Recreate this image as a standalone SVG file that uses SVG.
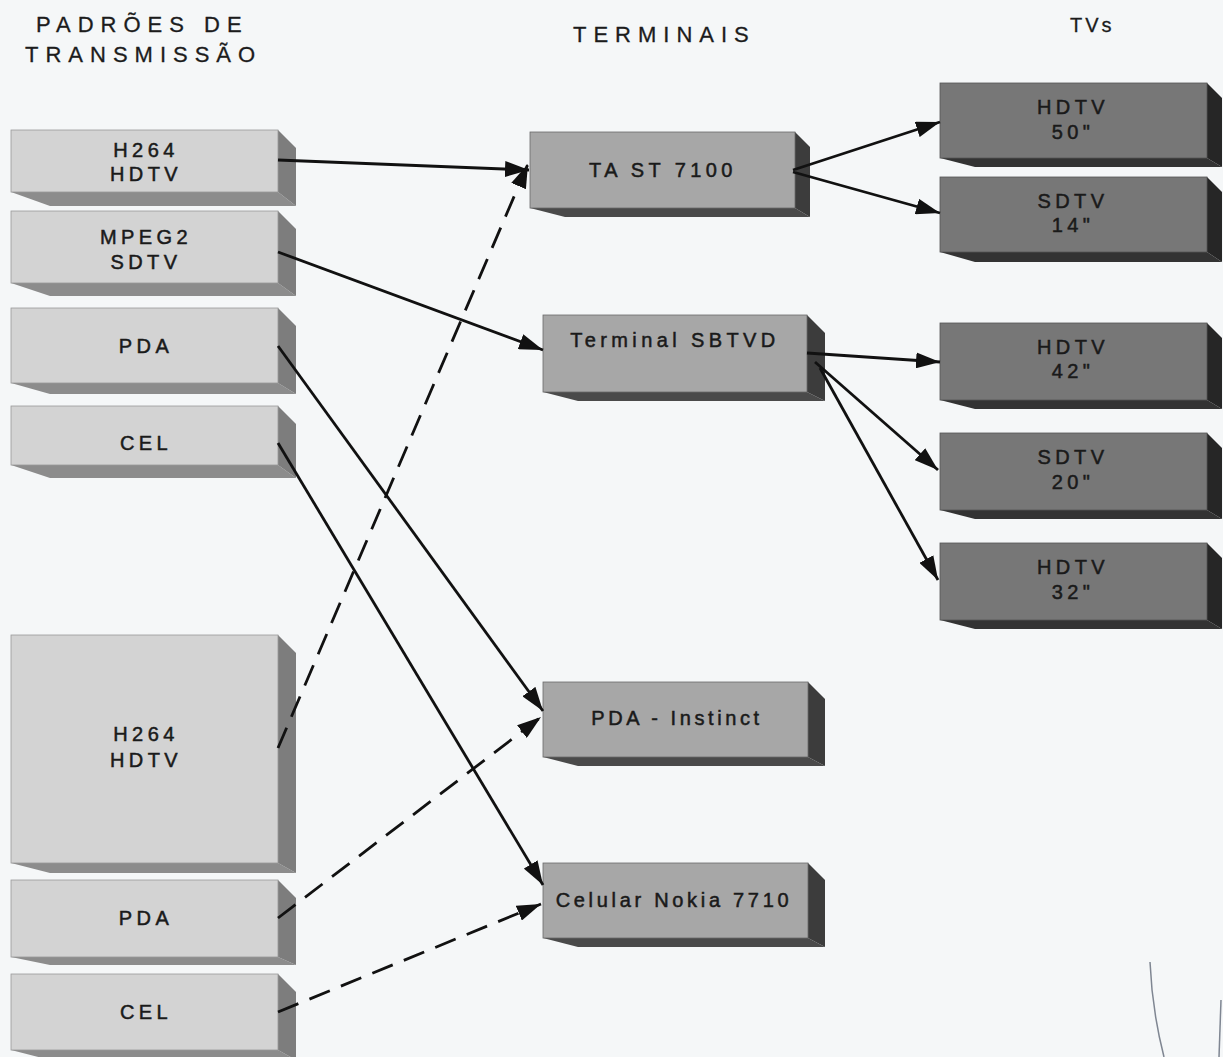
<svg xmlns="http://www.w3.org/2000/svg" width="1223" height="1057" viewBox="0 0 1223 1057">
<defs>
<style>
.hdr{font-family:"Liberation Sans",Arial,sans-serif;font-size:22px;letter-spacing:7px;fill:#1c1c1c;stroke:#1c1c1c;stroke-width:0.3}
.lbl{font-family:"Liberation Sans",Arial,sans-serif;font-size:20px;letter-spacing:4.4px;fill:#1a1a1a;stroke:#1a1a1a;stroke-width:0.5;text-anchor:middle}
.lf{fill:#d3d3d3;stroke:#9a9a9a;stroke-width:0.8}
.ls{fill:#7d7d7d}
.lb{fill:#8c8c8c}
.tf{fill:#a7a7a7;stroke:#6a6a6a;stroke-width:0.8}
.ts{fill:#3c3c3c}
.tb{fill:#4a4a4a}
.vf{fill:#777777;stroke:#555;stroke-width:0.8}
.vs{fill:#262626}
.vb{fill:#333333}
.c{stroke:#111;stroke-width:2.8;fill:none}
.d{stroke:#111;stroke-width:2.8;fill:none;stroke-dasharray:22 12}
</style>
<marker id="ah" markerUnits="userSpaceOnUse" markerWidth="26" markerHeight="16" refX="24" refY="8" orient="auto">
<path d="M0,0 L24,8 L0,16 z" fill="#111"/>
</marker>
</defs>
<rect width="1223" height="1057" fill="#f5f7f8"/>

<g id="headers">
<text class="hdr" x="36" y="32">PADRÕES DE</text>
<text class="hdr" x="25" y="62">TRANSMISSÃO</text>
<text class="hdr" x="573" y="42">TERMINAIS</text>
<text class="hdr" x="1070" y="32" style="font-size:20px;letter-spacing:3px">TVs</text>
</g>

<g id="std-h264-hdtv">
<polygon class="lb" points="11,192 278,192 296,206 50,206"/>
<polygon class="ls" points="278,130 296,148 296,206 278,192"/>
<rect class="lf" x="11" y="130" width="267" height="62"/>
<text class="lbl" x="146" y="157">H264</text>
<text class="lbl" x="146" y="181">HDTV</text>
</g>
<g id="std-mpeg2-sdtv">
<polygon class="lb" points="11,283 278,283 296,296 50,296"/>
<polygon class="ls" points="278,211 296,229 296,296 278,283"/>
<rect class="lf" x="11" y="211" width="267" height="72"/>
<text class="lbl" x="146" y="244">MPEG2</text>
<text class="lbl" x="146" y="269">SDTV</text>
</g>
<g id="std-pda">
<polygon class="lb" points="11,383 278,383 296,394 50,394"/>
<polygon class="ls" points="278,308 296,326 296,394 278,383"/>
<rect class="lf" x="11" y="308" width="267" height="75"/>
<text class="lbl" x="146" y="353">PDA</text>
</g>
<g id="std-cel">
<polygon class="lb" points="11,465 278,465 296,478 50,478"/>
<polygon class="ls" points="278,406 296,424 296,478 278,465"/>
<rect class="lf" x="11" y="406" width="267" height="59"/>
<text class="lbl" x="146" y="450">CEL</text>
</g>
<g id="std-h264-hdtv-2">
<polygon class="lb" points="11,863 278,863 296,873 50,873"/>
<polygon class="ls" points="278,635 296,653 296,873 278,863"/>
<rect class="lf" x="11" y="635" width="267" height="228"/>
<text class="lbl" x="146" y="741">H264</text>
<text class="lbl" x="146" y="767">HDTV</text>
</g>
<g id="std-pda-2">
<polygon class="lb" points="11,957 278,957 296,965 50,965"/>
<polygon class="ls" points="278,880 296,898 296,965 278,957"/>
<rect class="lf" x="11" y="880" width="267" height="77"/>
<text class="lbl" x="146" y="925">PDA</text>
</g>
<g id="std-cel-2">
<polygon class="lb" points="11,1050 278,1050 296,1060 50,1060"/>
<polygon class="ls" points="278,974 296,992 296,1060 278,1050"/>
<rect class="lf" x="11" y="974" width="267" height="76"/>
<text class="lbl" x="146" y="1019">CEL</text>
</g>

<g id="term-ta-st-7100">
<polygon class="tb" points="530,208 795,208 810,217 565,217"/>
<polygon class="ts" points="795,132 810,147 810,217 795,208"/>
<rect class="tf" x="530" y="132" width="265" height="76"/>
<text class="lbl" x="663" y="177">TA ST 7100</text>
</g>
<g id="term-sbtvd">
<polygon class="tb" points="543,392 807,392 825,401 578,401"/>
<polygon class="ts" points="807,315 825,333 825,401 807,392"/>
<rect class="tf" x="543" y="315" width="264" height="77"/>
<text class="lbl" x="675" y="347">Terminal SBTVD</text>
</g>
<g id="term-pda-instinct">
<polygon class="tb" points="543,757 808,757 825,766 578,766"/>
<polygon class="ts" points="808,682 825,699 825,766 808,757"/>
<rect class="tf" x="543" y="682" width="265" height="75"/>
<text class="lbl" x="677" y="725" style="letter-spacing:3.6px">PDA - Instinct</text>
</g>
<g id="term-celular-nokia">
<polygon class="tb" points="543,938 808,938 825,947 578,947"/>
<polygon class="ts" points="808,863 825,880 825,947 808,938"/>
<rect class="tf" x="543" y="863" width="265" height="75"/>
<text class="lbl" x="674" y="907" style="letter-spacing:3.7px">Celular Nokia 7710</text>
</g>

<g id="tv-hdtv-50">
<polygon class="vb" points="940,158 1207,158 1222,167 975,167"/>
<polygon class="vs" points="1207,83 1222,98 1222,167 1207,158"/>
<rect class="vf" x="940" y="83" width="267" height="75"/>
<text class="lbl" x="1073" y="114">HDTV</text>
<text class="lbl" x="1073" y="139">50"</text>
</g>
<g id="tv-sdtv-14">
<polygon class="vb" points="940,252 1207,252 1222,262 975,262"/>
<polygon class="vs" points="1207,177 1222,192 1222,262 1207,252"/>
<rect class="vf" x="940" y="177" width="267" height="75"/>
<text class="lbl" x="1073" y="208">SDTV</text>
<text class="lbl" x="1073" y="232">14"</text>
</g>
<g id="tv-hdtv-42">
<polygon class="vb" points="940,400 1207,400 1222,409 975,409"/>
<polygon class="vs" points="1207,323 1222,338 1222,409 1207,400"/>
<rect class="vf" x="940" y="323" width="267" height="77"/>
<text class="lbl" x="1073" y="354">HDTV</text>
<text class="lbl" x="1073" y="378">42"</text>
</g>
<g id="tv-sdtv-20">
<polygon class="vb" points="940,510 1207,510 1222,519 975,519"/>
<polygon class="vs" points="1207,433 1222,448 1222,519 1207,510"/>
<rect class="vf" x="940" y="433" width="267" height="77"/>
<text class="lbl" x="1073" y="464">SDTV</text>
<text class="lbl" x="1073" y="489">20"</text>
</g>
<g id="tv-hdtv-32">
<polygon class="vb" points="940,620 1207,620 1222,629 975,629"/>
<polygon class="vs" points="1207,543 1222,558 1222,629 1207,620"/>
<rect class="vf" x="940" y="543" width="267" height="77"/>
<text class="lbl" x="1073" y="574">HDTV</text>
<text class="lbl" x="1073" y="599">32"</text>
</g>

<g id="connectors">
<line class="c" x1="278" y1="160" x2="529" y2="170" marker-end="url(#ah)"/>
<line class="c" x1="278" y1="252" x2="543" y2="350" marker-end="url(#ah)"/>
<line class="c" x1="278" y1="346" x2="543" y2="711" marker-end="url(#ah)"/>
<line class="c" x1="278" y1="443" x2="543" y2="885" marker-end="url(#ah)"/>
<line class="d" x1="278" y1="748" x2="528" y2="164" marker-end="url(#ah)"/>
<line class="d" x1="278" y1="918" x2="541" y2="717" marker-end="url(#ah)"/>
<line class="d" x1="278" y1="1012" x2="541" y2="904" marker-end="url(#ah)"/>
<line class="c" x1="793" y1="170" x2="940" y2="122" marker-end="url(#ah)"/>
<line class="c" x1="793" y1="172" x2="940" y2="213" marker-end="url(#ah)"/>
<line class="c" x1="807" y1="353" x2="940" y2="362" marker-end="url(#ah)"/>
<line class="c" x1="815" y1="362" x2="938" y2="470" marker-end="url(#ah)"/>
<line class="c" x1="820" y1="368" x2="938" y2="580" marker-end="url(#ah)"/>
</g>

<g id="pen-mark" fill="none" stroke="#7f8692" stroke-width="1.5">
<path d="M1150,962 Q1152,1010 1164,1057"/>
<path d="M1221,1000 L1219,1057"/>
</g>
</svg>
